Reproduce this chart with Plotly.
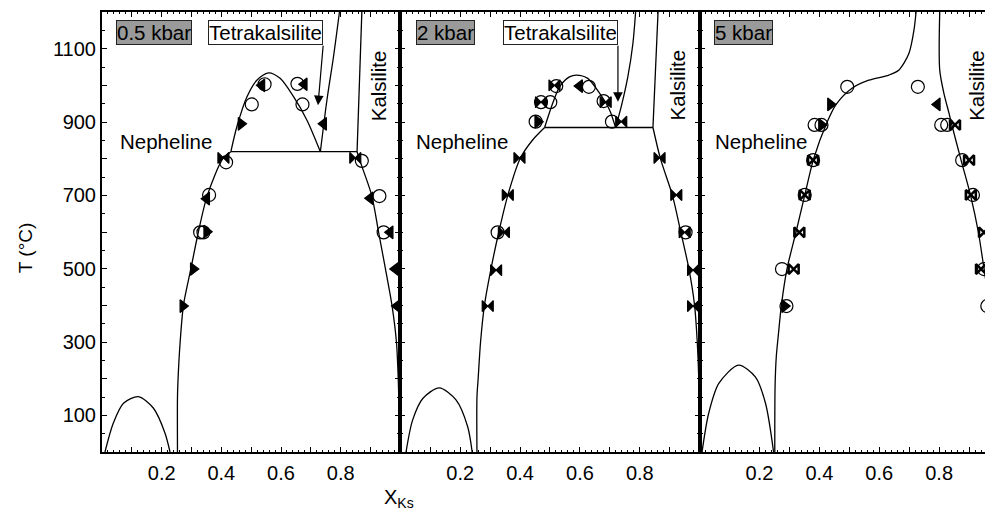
import plotly.graph_objects as go

# ---------------- 0.5 kbar ----------------
p05_dome_x = [0.010, 0.038, 0.072, 0.122, 0.172, 0.211, 0.228]
p05_dome_y = [0, 79, 133, 151, 120, 52, 0]
p05_ne_x = [0.253, 0.253, 0.255, 0.262, 0.273, 0.298, 0.323, 0.353, 0.405, 0.432]
p05_ne_y = [0, 150, 200, 300, 400, 500, 600, 700, 800, 819]
p05_liq_x = [0.432, 0.452, 0.486, 0.519, 0.558, 0.597, 0.642, 0.687, 0.732]
p05_liq_y = [819, 887, 969, 1014, 1034, 1019, 969, 905, 819]
p05_tks_x = [0.732, 0.754, 0.776, 0.796]
p05_tks_y = [819, 960, 1078, 1200]
p05_kls_x = [0.855, 0.871]
p05_kls_y = [819, 1200]
p05_eut_x = [0.432, 0.855]
p05_eut_y = [819, 819]
p05_ks_x = [0.855, 0.862, 0.904, 0.927, 0.950, 0.972, 0.987, 0.993, 0.996, 0.998]
p05_ks_y = [819, 800, 700, 600, 500, 400, 300, 200, 100, 0]

p05_circ_x = [0.545, 0.655, 0.502, 0.672, 0.416, 0.871, 0.359, 0.930, 0.329, 0.340, 0.944]
p05_circ_y = [1003, 1004, 948, 948, 790, 794, 701, 698, 599, 599, 599]
p05_tr_x = [0.466, 0.351, 0.306, 0.271]
p05_tr_y = [895, 601, 499, 398]
p05_tl_x = [0.536, 0.678, 0.743, 0.351, 0.899, 0.966, 0.983, 0.989]
p05_tl_y = [1000, 1003, 895, 691, 692, 599, 499, 398]
p05_bow_x = [0.407, 0.849]
p05_bow_y = [802, 802]

# ---------------- 2 kbar ----------------
p2_dome_x = [0.019, 0.041, 0.075, 0.130, 0.186, 0.225, 0.240]
p2_dome_y = [0, 87, 146, 175, 142, 69, 0]
p2_ne_x = [0.256, 0.256, 0.260, 0.268, 0.281, 0.303, 0.329, 0.359, 0.400, 0.442, 0.482]
p2_ne_y = [0, 150, 200, 300, 400, 500, 600, 700, 800, 851, 885]
p2_liq_x = [0.482, 0.509, 0.532, 0.565, 0.588, 0.626, 0.666, 0.699, 0.719]
p2_liq_y = [885, 951, 996, 1023, 1028, 1019, 978, 933, 885]
p2_tks_x = [0.719, 0.738, 0.760, 0.777, 0.786]
p2_tks_y = [885, 942, 1023, 1114, 1200]
p2_kls_x = [0.844, 0.861]
p2_kls_y = [885, 1200]
p2_eut_x = [0.482, 0.844]
p2_eut_y = [885, 885]
p2_ks_x = [0.844, 0.869, 0.909, 0.937, 0.964, 0.983, 0.992, 0.997, 0.999]
p2_ks_y = [885, 800, 700, 600, 500, 400, 300, 200, 0]

p2_circ_x = [0.521, 0.630, 0.470, 0.501, 0.679, 0.452, 0.707, 0.325, 0.953]
p2_circ_y = [998, 996, 954, 954, 957, 901, 901, 599, 599]
p2_bow_x = [0.515, 0.470, 0.686, 0.738, 0.398, 0.866, 0.359, 0.922, 0.346, 0.950, 0.320, 0.978, 0.292, 0.978]
p2_bow_y = [1000, 954, 954, 901, 802, 802, 701, 701, 599, 599, 496, 496, 398, 398]
p2_tl_x = [0.599]
p2_tl_y = [998]
p2_tr_x = [0.459]
p2_tr_y = [901]

# ---------------- 5 kbar ----------------
p5_dome_x = [0.008, 0.030, 0.064, 0.130, 0.186, 0.220, 0.247]
p5_dome_y = [0, 105, 187, 237, 205, 133, 0]
p5_ne_x = [0.251, 0.252, 0.256, 0.263, 0.273, 0.292, 0.322, 0.351, 0.381, 0.426, 0.456, 0.509, 0.565, 0.632, 0.666, 0.699, 0.716, 0.723]
p5_ne_y = [0, 180, 260, 320, 400, 500, 600, 700, 800, 900, 948, 992, 1014, 1028, 1042, 1087, 1151, 1200]
p5_ks_x = [0.802, 0.802, 0.816, 0.833, 0.840, 0.872, 0.905, 0.931, 0.950, 0.969, 0.985]
p5_ks_y = [1200, 1042, 978, 924, 900, 800, 700, 600, 500, 400, 330]

p5_circ_x = [0.493, 0.729, 0.384, 0.407, 0.807, 0.827, 0.379, 0.877, 0.351, 0.913, 0.275, 0.950, 0.290, 0.961]
p5_circ_y = [996, 996, 892, 892, 892, 892, 796, 796, 701, 701, 499, 499, 398, 398]
p5_tr_x = [0.437, 0.407, 0.284]
p5_tr_y = [948, 892, 398]
p5_tl_x = [0.794]
p5_tl_y = [948]
p5_bowo_x = [0.853, 0.379, 0.900, 0.351, 0.906, 0.333, 0.950, 0.314, 0.940]
p5_bowo_y = [892, 796, 796, 701, 701, 599, 599, 499, 499]

FONT = "Liberation Sans, Arial, Helvetica, sans-serif"

fig = go.Figure()


def add_line(x, y, ax, spline=True):
    fig.add_trace(go.Scatter(
        x=x, y=y, mode="lines", xaxis=ax[0], yaxis=ax[1], showlegend=False,
        line=dict(color="black", width=1.3, shape="spline" if spline else "linear",
                  smoothing=0.8 if spline else 0),
        hoverinfo="skip"))


def add_markers(x, y, ax, symbol, size, lw=1.2):
    fig.add_trace(go.Scatter(
        x=x, y=y, mode="markers", xaxis=ax[0], yaxis=ax[1], showlegend=False,
        marker=dict(symbol=symbol, size=size, color="black",
                    line=dict(color="black", width=lw))))


A1, A2, A3 = ("x", "y"), ("x2", "y2"), ("x3", "y3")

# panel 1 lines
add_line(p05_dome_x, p05_dome_y, A1)
add_line(p05_ne_x, p05_ne_y, A1)
add_line(p05_liq_x, p05_liq_y, A1)
add_line(p05_tks_x, p05_tks_y, A1)
add_line(p05_kls_x, p05_kls_y, A1, False)
add_line(p05_eut_x, p05_eut_y, A1, False)
add_line(p05_ks_x, p05_ks_y, A1)
# panel 2 lines
add_line(p2_dome_x, p2_dome_y, A2)
add_line(p2_ne_x, p2_ne_y, A2)
add_line(p2_liq_x, p2_liq_y, A2)
add_line(p2_tks_x, p2_tks_y, A2)
add_line(p2_kls_x, p2_kls_y, A2, False)
add_line(p2_eut_x, p2_eut_y, A2, False)
add_line(p2_ks_x, p2_ks_y, A2)
# panel 3 lines
add_line(p5_dome_x, p5_dome_y, A3)
add_line(p5_ne_x, p5_ne_y, A3)
add_line(p5_ks_x, p5_ks_y, A3)

# markers
add_markers(p05_circ_x, p05_circ_y, A1, "circle-open", 13)
add_markers(p05_tr_x, p05_tr_y, A1, "triangle-right", 11)
add_markers(p05_tl_x, p05_tl_y, A1, "triangle-left", 11)
add_markers(p05_bow_x, p05_bow_y, A1, "bowtie", 11)

add_markers(p2_circ_x, p2_circ_y, A2, "circle-open", 13)
add_markers(p2_bow_x, p2_bow_y, A2, "bowtie", 11)
add_markers(p2_tl_x, p2_tl_y, A2, "triangle-left", 11)
add_markers(p2_tr_x, p2_tr_y, A2, "triangle-right", 11)

add_markers(p5_circ_x, p5_circ_y, A3, "circle-open", 13)
add_markers(p5_tr_x, p5_tr_y, A3, "triangle-right", 11)
add_markers(p5_tl_x, p5_tl_y, A3, "triangle-left", 11)
add_markers(p5_bowo_x, p5_bowo_y, A3, "bowtie-open", 10, lw=2.5)

# axes
x_tickvals = [0.1, 0.2, 0.3, 0.4, 0.5, 0.6, 0.7, 0.8, 0.9]
x_ticktext = ["", "0.2", "", "0.4", "", "0.6", "", "0.8", ""]
y_tickvals = [100, 200, 300, 400, 500, 600, 700, 800, 900, 1000, 1100]
y_ticktext = ["100", "", "300", "", "500", "", "700", "", "900", "", "1100"]

# the page body adds an 8 px margin, so the figure is 8 px smaller and offsets shrink by 8
W, H = 985, 504
L, R, T, B = 94, 0, 4, 60
PW = W - L - R
d1 = 299 / PW
d2 = 599 / PW

common = dict(showline=True, linecolor="black", linewidth=2, mirror="ticks",
              ticks="inside", ticklen=5, tickwidth=1.2, tickcolor="black",
              showgrid=False, zeroline=False,
              tickfont=dict(family=FONT, size=20, color="black"))

xax = dict(common, tickvals=x_tickvals, ticktext=x_ticktext, ticklabelstandoff=2,
           minor=dict(ticks="inside", ticklen=2, tickwidth=1, tickcolor="black", dtick=0.02, tick0=0))
yax = dict(common, tickvals=y_tickvals, ticktext=y_ticktext, range=[0, 1200],
           minor=dict(ticks="inside", ticklen=3, tickwidth=1, tickcolor="black", dtick=50, tick0=0))

fig.update_layout(
    width=W, height=H,
    margin=dict(l=L, r=R, t=T, b=B),
    paper_bgcolor="white", plot_bgcolor="white",
    font=dict(family=FONT, size=19, color="black"),
    xaxis=dict(xax, domain=[0, d1], range=[0, 1], anchor="y"),
    xaxis2=dict(xax, domain=[d1, d2], range=[0, 1], anchor="y2"),
    xaxis3=dict(xax, domain=[d2, 1], range=[0, 292 / 300], anchor="y3"),
    yaxis=dict(yax, anchor="x", ticklabelstandoff=0),
    yaxis2=dict(yax, anchor="x2", showticklabels=False),
    yaxis3=dict(yax, anchor="x3", showticklabels=False),
)

LBL = dict(family=FONT, size=20.5, color="black")
ann = []


def box(text, xr, yr, x, y, bg):
    ann.append(dict(text=text, xref=xr, yref=yr, x=x, y=y, xanchor="center", yanchor="middle",
                    showarrow=False, font=LBL, bgcolor=bg, bordercolor="#222222",
                    borderwidth=1, borderpad=0))


def label(text, xr, yr, x, y, angle=0):
    ann.append(dict(text=text, xref=xr, yref=yr, x=x, y=y, xanchor="center", yanchor="middle",
                    showarrow=False, font=LBL, textangle=angle))


def arrow(xr, yr, x0, y0, x1, y1):
    ann.append(dict(text=" ", xref=xr, yref=yr, axref=xr, ayref=yr, x=x1, y=y1, ax=x0, ay=y0,
                    showarrow=True, arrowhead=2, arrowsize=1.6, arrowwidth=1.2, arrowcolor="black",
                    font=dict(size=2)))


box("0.5 kbar", "x", "y", 0.175, 1145, "#9a9a9a")
box("Tetrakalsilite", "x", "y", 0.548, 1145, "white")
arrow("x", "y", 0.742, 1115, 0.724, 946)
label("Nepheline", "x", "y", 0.213, 846)
label("Kalsilite", "x", "y", 0.925, 1000, -90)

box("2 kbar", "x2", "y2", 0.151, 1145, "#9a9a9a")
box("Tetrakalsilite", "x2", "y2", 0.535, 1145, "white")
arrow("x2", "y2", 0.727, 1115, 0.727, 955)
label("Nepheline", "x2", "y2", 0.205, 846)
label("Kalsilite", "x2", "y2", 0.925, 1000, -90)

box("5 kbar", "x3", "y3", 0.146, 1145, "#9a9a9a")
label("Nepheline", "x3", "y3", 0.205, 846)
label("Kalsilite", "x3", "y3", 0.925, 1000, -90)

# axis titles (positions relative to the plot area)
ann.append(dict(text="T (°C)", xref="paper", yref="paper", x=(25 - 102) / PW, y=(452 - 248) / 440,
                xanchor="center", yanchor="middle", showarrow=False, textangle=-90,
                font=dict(family=FONT, size=19, color="black")))
ann.append(dict(text="X<sub>Ks</sub>", xref="paper", yref="paper", x=(400 - 102) / PW, y=(452 - 498) / 440,
                xanchor="center", yanchor="middle", showarrow=False,
                font=dict(family=FONT, size=20, color="black")))

fig.update_layout(annotations=ann)
fig.write_html("out.html")
